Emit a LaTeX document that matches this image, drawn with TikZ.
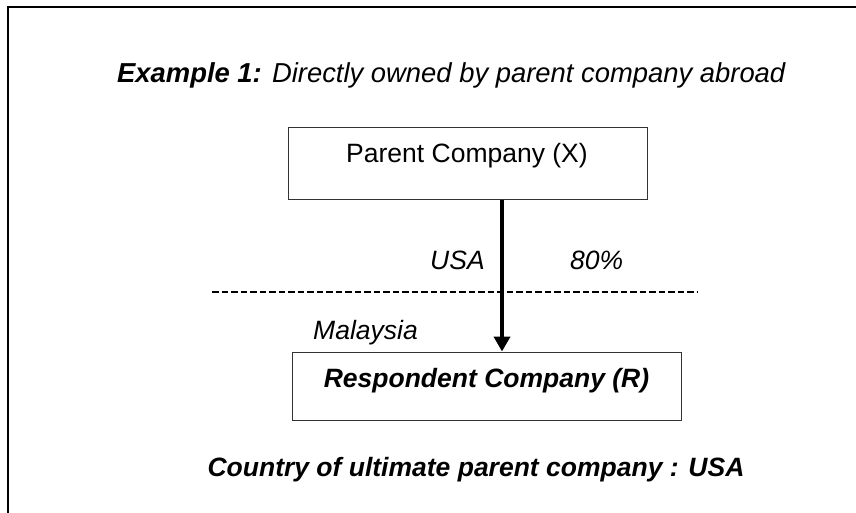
\documentclass[tikz,border=0pt]{standalone}
\usepackage{fontspec}
\setmainfont{Liberation Sans}
\usetikzlibrary{arrows.meta}
\begin{document}
\begin{tikzpicture}[x=1pt,y=-1pt,
  txt/.style={inner sep=0pt, font=\fontsize{26.5}{30}\selectfont},
  titletxt/.style={inner sep=0pt, font=\fontsize{27.4}{31}\selectfont},
  box/.style={draw=black!80, line width=1pt, rectangle, inner sep=0pt},
  frame/.style={line width=2.5pt, black},
  link/.style={line width=4pt, -{Triangle[width=16pt,length=15pt]}},
  divider/.style={line width=2.2pt, dash pattern=on 6.5pt off 3pt}]
\useasboundingbox (0,0) rectangle (856,513);
\fill[white] (0,0) rectangle (856,513);
% outer frame (left and top edges)
\coordinate (fbl) at (8,514);
\coordinate (ftl) at (8,7);
\coordinate (ftr) at (857,7);
\draw[frame] (fbl) -- (ftl) -- (ftr);
% title
\node[titletxt, anchor=base west] (title) at (117,83) {\textbf{\textit{Example 1:}} \textit{Directly owned by parent company abroad}};
% boxes
\node[box, minimum width=359pt, minimum height=71pt] (P) at (467.5,163.5) {};
\node[txt, anchor=base] (Ptext) at (467,163) {Parent Company (X)};
\node[box, minimum width=389pt, minimum height=68pt] (R) at (486.5,386) {};
\node[txt, anchor=base] (Rtext) at (486.5,387) {\textbf{\textit{Respondent Company (R)}}};
% arrow
\coordinate (ax) at (502,0);
\draw[link] (P.south -| ax) -- (R.north -| ax);
% divider
\coordinate (dl) at (212,292);
\coordinate (dr) at (698,292);
\draw[divider] (dl) -- (dr);
% labels
\node[txt, anchor=base west] (usa) at (430,269) {\textit{USA}};
\node[txt, anchor=base west] (pct) at (570,269) {\textit{80\%}};
\node[txt, anchor=base west] (my) at (313,339) {\textit{Malaysia}};
\node[txt, anchor=base] (country) at (476,476) {\textbf{\textit{Country of ultimate parent company : USA}}};
\end{tikzpicture}
\end{document}
